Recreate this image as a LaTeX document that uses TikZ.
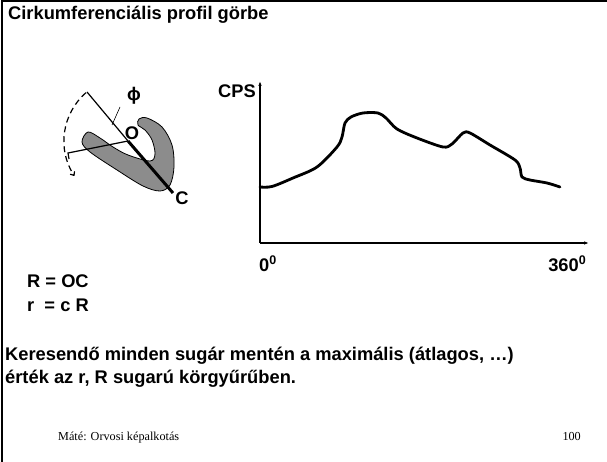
\documentclass[tikz,border=0pt]{standalone}
\usepackage{fontspec}
\usepackage{tikz}
\usetikzlibrary{calc}
\usetikzlibrary{arrows.meta}
\setmainfont{Liberation Sans}
\newfontfamily\footfont{Liberation Serif}
\colorlet{UShape}{black!45}
\newcommand{\degsup}{\raisebox{0.42em}{\fontsize{12.5}{12.5}\selectfont 0}}
\tikzset{
	label text/.style = {
		font      = \fontsize{18.3}{22}\selectfont\bfseries,
		inner sep = 0pt,
	},
	foot text/.style = {
		font      = \footfont\fontsize{12.2}{14}\selectfont,
		inner sep = 0pt,
	},
	axis line/.style = {
		line width = 1.4pt,
		-{Latex[length = 5pt, width = 3.5pt]},
	},
}

\begin{document}
\begin{tikzpicture}[x = 1pt, y = 1pt]
                    \useasboundingbox (0, 0) rectangle (607, 462);

                    % slide frame, only top and left edge
                    \draw[line width = 2pt] (2, 0) -- (2, 461) -- (607, 461);

                    \node[label text, anchor = base west] (title) at (8, 442)
                        {Cirkumferenciális profil görbe};

                    % --- object with the rotating radius ---
                    \coordinate (O)    at (128, 321);
                    \coordinate (top)  at (87,  370);
                    \coordinate (C)    at (173, 269);
                    \coordinate (rend) at (68,  309);
                    \coordinate (tick) at (69,  303);

                    \filldraw[fill = UShape, draw = black, line width = 0.8pt]
                        plot[smooth cycle, tension = 0.55] coordinates {
                            (82, 320) (88, 330) (100, 324) (113, 315) (128, 307)
                            (150, 301) (155, 308) (152, 322) (145, 332) (138, 337)
                            (139, 343) (147, 344) (162, 335) (172, 317) (174, 295)
                            (170, 277) (160, 271) (143, 276) (117, 292) (90, 310)
                        };

                    \draw[line width = 1.2pt] (top) -- (O);
                    \draw[line width = 3pt]   (O) -- (C);
                    \draw[line width = 1.2pt] (O) -- (rend) -- (tick);

                    \draw[
                        line width   = 1.2pt,
                        dash pattern = on 6pt off 4pt,
                        -{To[length = 4pt, width = 6pt]},
                    ] ($(O) + (131:64)$) arc[start angle = 131, end angle = 213, radius = 64];

                    \node[label text] (phi) at (134, 366) {ϕ};
                    \coordinate (leadA) at (112, 337);
                    \coordinate (leadB) at (120, 355);
                    \draw[line width = 0.6pt] (leadA) -- (leadB);

                    \node[label text] (olabel) at (132, 329) {O};
                    \node[label text] (clabel) at (182, 264) {C};

                    % --- profile curve ---
                    \coordinate (origin) at (260, 219);
                    \coordinate (ytop)   at (260, 381);
                    \coordinate (xend)   at (589, 219);

                    \draw[axis line] (origin) -- (ytop);
                    \draw[axis line] (origin) -- (xend);

                    \node[label text, anchor = base east] (cps)  at (256, 364) {CPS};
                    \node[label text, anchor = base west] (zero) at (259, 190) {0\degsup};
                    \node[label text, anchor = base east] (full) at (586, 190) {360\degsup};

                    \draw[line width = 2.8pt, line cap = round, line join = round]
                        plot[smooth, tension = 0.5] coordinates {
                            (260, 275) (272, 275.5) (293, 284) (317, 295) (337, 315)
                            (342, 325) (345, 339) (351, 345) (363, 349) (378, 349)
                            (386, 344) (397, 333) (417, 324) (443, 315) (452, 318)
                            (463, 329) (470, 329) (490, 317) (515, 302) (520, 294)
                            (522, 285) (530, 282) (547, 279) (560, 275)
                        };

                    % --- text below ---
                    \node[label text, anchor = base west] (bigr)   at (27, 174) {R = OC};
                    \node[label text, anchor = base west] (smallr) at (27, 150) {r~~= c R};

                    \node[label text, anchor = base west] (line1) at (5, 101)
                        {Keresendő minden sugár mentén a maximális (átlagos, …)};
                    \node[label text, anchor = base west] (line2) at (5, 78)
                        {érték az r, R sugarú körgyűrűben.};

                    \node[foot text, anchor = base west] (author) at (58, 21)
                        {Máté: Orvosi képalkotás};
                    \node[foot text, anchor = base east] (page) at (581, 21) {100};
                \end{tikzpicture}
\end{document}
